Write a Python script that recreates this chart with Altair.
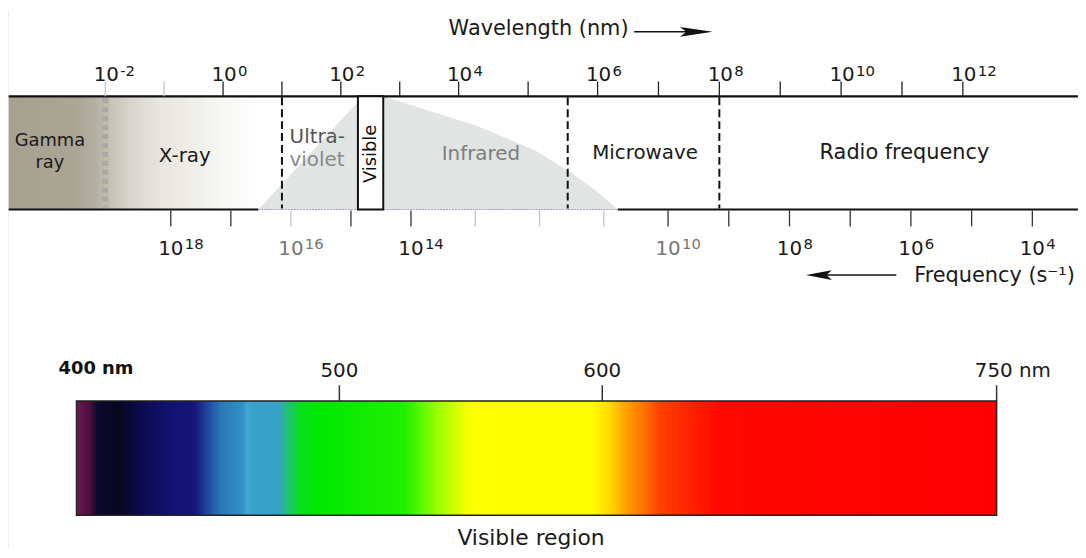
import altair as alt
import pandas as pd

# ------------------------------------------------------------------
# Values
# ------------------------------------------------------------------
# wavelength axis, log10(nm)
wl_tick_exp = list(range(-2, 13))
wl_label_exp = [-2, 0, 2, 4, 6, 8, 10, 12]
# frequency axis, log10(s^-1)
fq_tick_exp = list(range(4, 19))
fq_label_exp = [18, 16, 14, 10, 8, 6, 4]

band_span = [-3.64, 13.89]          # extent of the spectrum band (log10 nm)
gamma_edge = -2.0                    # gamma / x-ray boundary
dashed_edges = [1.0, 5.57, 8.0]      # x-ray|UV, IR|microwave, microwave|radio
visible_box = [2.29, 2.72]           # the boxed "Visible" strip
gamma_fade_end = 0.6

# shaded (infrared) profile: position (log10 nm) and relative height in band
ir_x = [0.6, 2.38, 2.72, 4.26, 5.11, 5.61, 5.97, 6.33]
ir_h = [0.0, 1.0, 1.0, 0.74, 0.52, 0.33, 0.17, 0.0]

region_text = ["Gamma", "ray", "X-ray", "Ultra-", "violet", "Infrared",
               "Microwave", "Radio frequency"]
region_at = [-2.94, -2.94, -0.65, 1.13, 1.13, 4.32, 6.78, 11.04]

# visible-region bar (nm)
vis_span = [400, 750]
vis_ticks = [500, 600, 750]
vis_label_at = [400, 500, 600, 750]
vis_labels = ["400 nm", "500", "600", "750 nm"]

spectrum_stops = [
    (400, "#6e1a4e"), (405, "#4a0e3e"), (408, "#0c0a2e"), (416, "#07061e"),
    (423, "#0a0a46"), (434, "#10106e"), (445, "#141678"), (450, "#1f48a0"),
    (455, "#2a78b8"), (463, "#3290c8"), (465, "#40a8d4"), (467, "#3aa0cc"),
    (477, "#34a4c4"), (480, "#22c078"), (485, "#08e020"), (491, "#00e800"),
    (525, "#20f000"), (538, "#a0ff00"), (549, "#f8ff00"), (555, "#ffff00"),
    (596, "#ffff00"), (603, "#ffd800"), (609, "#ffa000"), (616, "#ff7000"),
    (622, "#ff4000"), (634, "#ff2000"), (645, "#ff0800"), (750, "#ff0000"),
]
gamma_stops = [
    (-3.64, "#a6a190"), (-2.5, "#aaa595"), (-2.18, "#b3afa1"), (-1.9, "#c6c3b8"),
    (-1.52, "#d9d7cf"), (-1.09, "#e6e5df"), (-0.55, "#efeee9"), (0.6, "#ffffff"),
]

# ------------------------------------------------------------------
# Layout (chart size, page pixels from the top)
# ------------------------------------------------------------------
W, H = 1078, 542
FONT = "DejaVu Sans"
Y = dict(title=33, arrow_top=30, wl_lab=80, wl_sup=74, wl_tick=(80, 95),
         band=(95, 209), fq_tick=(210, 226), fq_lab=255, fq_sup=248.5,
         fq_title=281.7, fq_arrow=275, vis_lab=378, vis_lab400=375,
         vis_tick=(386, 402), vis_bar=(402, 517), vis_title=547)

region_style = {
    "Gamma": (145, "#1a1a1a", 18, "center"),
    "ray": (167, "#1a1a1a", 18, "center"),
    "X-ray": (161, "#1a1a1a", 20, "center"),
    "Ultra-": (142, "#555555", 20, "left"),
    "violet": (165, "#8a8a8a", 20, "left"),
    "Infrared": (159, "#7d7d7d", 20, "center"),
    "Microwave": (158, "#1a1a1a", 20, "center"),
    "Radio frequency": (158, "#1a1a1a", 21, "center"),
}

# ------------------------------------------------------------------
# Scales: the drawing's own (slightly uneven) axes, given as anchor
# values and where they sit on the page
# ------------------------------------------------------------------
def piecewise(values, page_px):
    """Extend anchors linearly to the page edges (8 .. 1086) -> chart range."""
    v, p = list(values), list(page_px)
    s0 = (v[1] - v[0]) / (p[1] - p[0])
    s1 = (v[-1] - v[-2]) / (p[-1] - p[-2])
    dom = [v[0] - (p[0] - 8) * s0] + v[1:-1] + [v[-1] + (1086 - p[-1]) * s1]
    rng = [0] + [x - 8 for x in p[1:-1]] + [W]
    return alt.Scale(domain=dom, range=rng, nice=False, zero=False)


wl_scale = piecewise([-2, 4, 6, 12], [106, 462, 602, 970])
fq_scale = piecewise([18, 14, 10, 4], [172, 414, 673, 1040])
vis_scale = piecewise([400, 750], [77, 1004])
y_scale = alt.Scale(domain=[8, 8 + H], range=[0, H], nice=False, zero=False)


def X(f, s):
    return alt.X(f"{f}:Q", scale=s, axis=None)


def X2(f):
    return alt.X2(f"{f}:Q")


def Yq(f):
    return alt.Y(f"{f}:Q", scale=y_scale, axis=None)


def Y2(f):
    return alt.Y2(f"{f}:Q")


def grad(stops, lo, hi):
    return alt.LinearGradient(
        gradient="linear", x1=0, x2=1, y1=0, y2=0,
        stops=[alt.GradientStop(color=c, offset=(v - lo) / (hi - lo)) for v, c in stops])


layers = []

# left scan border
layers.append(alt.Chart(pd.DataFrame({"x": [band_span[0] - 0.015], "y": [8], "y2": [8 + H]}))
              .mark_rule(color="#c8c8c8", strokeWidth=1)
              .encode(x=X("x", wl_scale), y=Yq("y"), y2=Y2("y2")))

b0, b1 = Y["band"]
# gamma-ray shading
layers.append(alt.Chart(pd.DataFrame({"x": [band_span[0]], "x2": [gamma_fade_end], "y": [b0], "y2": [b1]}))
              .mark_rect(fill=grad(gamma_stops, band_span[0], gamma_fade_end), strokeWidth=0)
              .encode(x=X("x", wl_scale), x2=X2("x2"), y=Yq("y"), y2=Y2("y2")))

# infrared shaded profile
ir_df = pd.DataFrame({"x": ir_x, "h": ir_h})
ir_df["y"] = b1 - ir_df["h"] * (b1 - b0)
ir_df["y2"] = b1
layers.append(alt.Chart(ir_df).mark_area(color="#e0e4e3", opacity=1)
              .encode(x=X("x", wl_scale), y=Yq("y"), y2=Y2("y2")))

# band edges
layers.append(alt.Chart(pd.DataFrame({"x": [band_span[0]], "x2": [band_span[1]], "y": [b0]}))
              .mark_rule(color="#111111", strokeWidth=2.2)
              .encode(x=X("x", wl_scale), x2=X2("x2"), y=Yq("y")))
layers.append(alt.Chart(pd.DataFrame({"x": [band_span[0], ir_x[-1]], "x2": [ir_x[0], band_span[1]], "y": [b1, b1]}))
              .mark_rule(color="#111111", strokeWidth=2.2)
              .encode(x=X("x", wl_scale), x2=X2("x2"), y=Yq("y")))
layers.append(alt.Chart(pd.DataFrame({"x": [ir_x[0]], "x2": [ir_x[-1]], "y": [b1]}))
              .mark_rule(color="#9ea3bf", strokeWidth=1.2, strokeDash=[2, 1])
              .encode(x=X("x", wl_scale), x2=X2("x2"), y=Yq("y")))

# region boundaries
layers.append(alt.Chart(pd.DataFrame({"x": [gamma_edge], "y": [b0 + 2], "y2": [b1 - 2]}))
              .mark_rule(color="#a9a9a9", strokeWidth=6, strokeDash=[5, 4])
              .encode(x=X("x", wl_scale), y=Yq("y"), y2=Y2("y2")))
layers.append(alt.Chart(pd.DataFrame({"x": dashed_edges, "y": [b0 + 1] * 3, "y2": [b1 - 1] * 3}))
              .mark_rule(color="#111111", strokeWidth=2, strokeDash=[8, 4])
              .encode(x=X("x", wl_scale), y=Yq("y"), y2=Y2("y2")))

# visible box
layers.append(alt.Chart(pd.DataFrame({"x": [visible_box[0]], "x2": [visible_box[1]], "y": [b0], "y2": [b1]}))
              .mark_rect(fill="white", stroke="#111111", strokeWidth=2)
              .encode(x=X("x", wl_scale), x2=X2("x2"), y=Yq("y"), y2=Y2("y2")))
layers.append(alt.Chart(pd.DataFrame({"x": [sum(visible_box) / 2], "y": [153], "t": ["Visible"]}))
              .mark_text(font=FONT, fontSize=18, angle=270, align="center", baseline="middle", color="#111111")
              .encode(x=X("x", wl_scale), y=Yq("y"), text="t:N"))

# region labels
reg_df = pd.DataFrame({"x": region_at, "t": region_text})
reg_df["y"] = [region_style[t][0] for t in region_text]
reg_df["c"] = [region_style[t][1] for t in region_text]
reg_df["s"] = [region_style[t][2] for t in region_text]
reg_df["a"] = [region_style[t][3] for t in region_text]
for al in ["center", "left"]:
    sub = reg_df[reg_df["a"] == al]
    layers.append(alt.Chart(sub).mark_text(font=FONT, align=al, baseline="alphabetic")
                  .encode(x=X("x", wl_scale), y=Yq("y"), text="t:N",
                          color=alt.Color("c:N", scale=None),
                          size=alt.Size("s:Q", scale=None)))

# wavelength ticks and labels
wt = pd.DataFrame({"e": wl_tick_exp, "y": [Y["wl_tick"][0]] * len(wl_tick_exp),
                   "y2": [Y["wl_tick"][1]] * len(wl_tick_exp)})
layers.append(alt.Chart(wt).mark_rule(strokeWidth=1.3)
              .encode(x=X("e", wl_scale), y=Yq("y"), y2=Y2("y2"),
                      color=alt.condition(alt.FieldOneOfPredicate(field="e", oneOf=[-2, -1]),
                                          alt.value("#c4c4c4"), alt.value("#222222"))))
wl_lab = pd.DataFrame({"e": wl_label_exp, "base": ["10"] * len(wl_label_exp),
                       "sup": [str(e) for e in wl_label_exp]})
wl_lab["y"] = Y["wl_lab"]
wl_lab["ys"] = Y["wl_sup"]
layers.append(alt.Chart(wl_lab).mark_text(font=FONT, fontSize=20, align="center", dx=1,
                                          baseline="alphabetic", color="#1a1a1a")
              .encode(x=X("e", wl_scale), y=Yq("y"), text="base:N"))
layers.append(alt.Chart(wl_lab).mark_text(font=FONT, fontSize=15, align="left", dx=15,
                                          baseline="alphabetic", color="#1a1a1a")
              .encode(x=X("e", wl_scale), y=Yq("ys"), text="sup:N"))

# wavelength title and arrow
layers.append(alt.Chart(pd.DataFrame({"x": [3.83], "y": [Y["title"]], "t": ["Wavelength (nm)"]}))
              .mark_text(font=FONT, fontSize=21, align="left", baseline="alphabetic", color="#1a1a1a")
              .encode(x=X("x", wl_scale), y=Yq("y"), text="t:N"))
layers.append(alt.Chart(pd.DataFrame({"x": [6.6], "x2": [7.6], "y": [Y["arrow_top"]]}))
              .mark_rule(color="#111111", strokeWidth=1.5)
              .encode(x=X("x", wl_scale), x2=X2("x2"), y=Yq("y")))
layers.append(alt.Chart(pd.DataFrame({"x": [7.62], "y": [Y["arrow_top"]]}))
              .mark_point(shape="M 1 0 L -1 -0.3 L -0.6 0 L -1 0.3 Z", size=33 * 33,
                          filled=True, opacity=1, color="#111111", strokeWidth=0)
              .encode(x=X("x", wl_scale), y=Yq("y")))

# frequency ticks and labels
ft = pd.DataFrame({"e": fq_tick_exp, "y": [Y["fq_tick"][0]] * len(fq_tick_exp),
                   "y2": [Y["fq_tick"][1]] * len(fq_tick_exp)})
layers.append(alt.Chart(ft).mark_rule(strokeWidth=1.3)
              .encode(x=X("e", fq_scale), y=Yq("y"), y2=Y2("y2"),
                      color=alt.condition(alt.FieldOneOfPredicate(field="e", oneOf=[16, 13, 12, 11]),
                                          alt.value("#c4c4c4"), alt.value("#333333"))))
fq_lab = pd.DataFrame({"e": fq_label_exp, "base": ["10"] * len(fq_label_exp),
                       "sup": [str(e) for e in fq_label_exp]})
fq_lab["y"] = Y["fq_lab"]
fq_lab["ys"] = Y["fq_sup"]
fq_col = alt.condition(alt.FieldOneOfPredicate(field="e", oneOf=[16, 10]),
                       alt.value("#777777"), alt.value("#1a1a1a"))
layers.append(alt.Chart(fq_lab).mark_text(font=FONT, fontSize=20, align="center",
                                          baseline="alphabetic")
              .encode(x=X("e", fq_scale), y=Yq("y"), text="base:N", color=fq_col))
layers.append(alt.Chart(fq_lab).mark_text(font=FONT, fontSize=15, align="left", dx=14,
                                          baseline="alphabetic")
              .encode(x=X("e", fq_scale), y=Yq("ys"), text="sup:N", color=fq_col))

# frequency title and arrow
layers.append(alt.Chart(pd.DataFrame({"x": [3.3], "y": [Y["fq_title"]], "t": ["Frequency (s\u207b\u00b9)"]}))
              .mark_text(font=FONT, fontSize=21, align="right", baseline="alphabetic", color="#1a1a1a")
              .encode(x=X("x", fq_scale), y=Yq("y"), text="t:N"))
layers.append(alt.Chart(pd.DataFrame({"x": [7.6], "x2": [6.24], "y": [Y["fq_arrow"]]}))
              .mark_rule(color="#111111", strokeWidth=1.5)
              .encode(x=X("x", fq_scale), x2=X2("x2"), y=Yq("y")))
layers.append(alt.Chart(pd.DataFrame({"x": [7.515], "y": [Y["fq_arrow"]]}))
              .mark_point(shape="M -1 0 L 1 -0.38 L 0.6 0 L 1 0.38 Z", size=26 * 26,
                          filled=True, opacity=1, color="#111111", strokeWidth=0)
              .encode(x=X("x", fq_scale), y=Yq("y")))

# ------------------------------------------------------------------
# Visible region bar
# ------------------------------------------------------------------
v0, v1 = Y["vis_bar"]
layers.append(alt.Chart(pd.DataFrame({"x": [vis_span[0]], "x2": [vis_span[1]], "y": [v0], "y2": [v1]}))
              .mark_rect(fill=grad(spectrum_stops, vis_span[0], vis_span[1]),
                         stroke="#222222", strokeWidth=1.5)
              .encode(x=X("x", vis_scale), x2=X2("x2"), y=Yq("y"), y2=Y2("y2")))
vt = pd.DataFrame({"x": vis_ticks, "y": [Y["vis_tick"][0]] * 3, "y2": [Y["vis_tick"][1]] * 3})
layers.append(alt.Chart(vt).mark_rule(color="#333333", strokeWidth=1.5)
              .encode(x=X("x", vis_scale), y=Yq("y"), y2=Y2("y2")))

vl = pd.DataFrame({"x": vis_label_at, "t": vis_labels})
layers.append(alt.Chart(vl.iloc[[0]].assign(y=Y["vis_lab400"]))
              .mark_text(font=FONT, fontSize=18, fontWeight="bold", align="left", dx=-18,
                         baseline="alphabetic", color="#111111")
              .encode(x=X("x", vis_scale), y=Yq("y"), text="t:N"))
layers.append(alt.Chart(vl.iloc[[1, 2]].assign(y=Y["vis_lab"]))
              .mark_text(font=FONT, fontSize=20, align="center",
                         baseline="alphabetic", color="#1a1a1a")
              .encode(x=X("x", vis_scale), y=Yq("y"), text="t:N"))
layers.append(alt.Chart(vl.iloc[[3]].assign(y=Y["vis_lab"]))
              .mark_text(font=FONT, fontSize=20, align="left", dx=-22,
                         baseline="alphabetic", color="#1a1a1a")
              .encode(x=X("x", vis_scale), y=Yq("y"), text="t:N"))
layers.append(alt.Chart(pd.DataFrame({"x": [572.9], "y": [Y["vis_title"]], "t": ["Visible region"]}))
              .mark_text(font=FONT, fontSize=22, align="center", baseline="alphabetic", color="#1a1a1a")
              .encode(x=X("x", vis_scale), y=Yq("y"), text="t:N"))

chart = (alt.layer(*layers)
         .resolve_scale(x="independent")
         .properties(width=W, height=H, padding=0, background="white",
                     autosize=alt.AutoSizeParams(type="none"))
         .configure_view(stroke=None))

chart.save("out.html", embed_options={"renderer": "svg", "actions": False})
